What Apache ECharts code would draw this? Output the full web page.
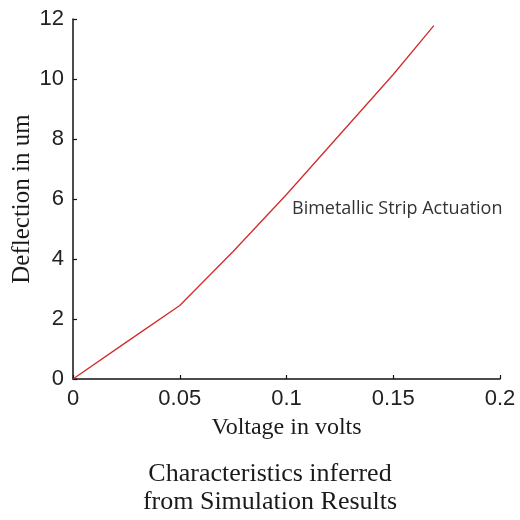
<!DOCTYPE html>
<html>
<head>
<meta charset="utf-8">
<script src="https://cdn.jsdelivr.net/npm/echarts@6/dist/echarts.min.js"></script>
<style>
  html, body { margin: 0; padding: 0; background: #fff; }
  #chart { width: 520px; height: 520px; }
</style>
</head>
<body>
<div id="chart"></div>
<script>
// values
const voltage = [0, 0.025, 0.05, 0.075, 0.1, 0.125, 0.15, 0.169]
const deflection = [0, 1.23, 2.45, 4.25, 6.15, 8.15, 10.15, 11.78]
const seriesName = 'Bimetallic Strip Actuation'
const captionLines = ['Characteristics inferred', 'from Simulation Results']

const serif = '"Liberation Serif", "DejaVu Serif", serif'
const sans = '"Liberation Sans", Arial, sans-serif'

const chart = echarts.init(document.getElementById('chart'))

chart.setOption({
  animation: false,
  backgroundColor: '#fff',
  grid: { left: 73, right: 20, top: 19, bottom: 141, outerBoundsMode: 'none' },
  xAxis: {
    type: 'value',
    min: 0,
    max: 0.2,
    interval: 0.05,
    name: 'Voltage in volts',
    nameLocation: 'middle',
    nameGap: 37,
    nameMoveOverlap: false,
    nameTextStyle: { fontFamily: serif, fontSize: 24, color: '#1a1a1a' },
    axisLine: { show: true, lineStyle: { color: '#111', width: 1.5 } },
    axisTick: { show: true, inside: true, length: 4, lineStyle: { color: '#111', width: 1.2 } },
    axisLabel: {
      fontFamily: sans,
      fontSize: 22,
      color: '#222',
      margin: 9,
      formatter: v => String(+v.toFixed(2)),
    },
    splitLine: { show: false },
  },
  yAxis: {
    type: 'value',
    min: 0,
    max: 12,
    interval: 2,
    name: 'Deflection in um',
    nameLocation: 'middle',
    nameGap: 38,
    nameMoveOverlap: false,
    nameTextStyle: { fontFamily: serif, fontSize: 25, color: '#1a1a1a' },
    axisLine: { show: true, lineStyle: { color: '#111', width: 1.5 } },
    axisTick: { show: true, inside: true, length: 4, lineStyle: { color: '#111', width: 1.2 } },
    axisLabel: { fontFamily: sans, fontSize: 22, color: '#222', margin: 9 },
    splitLine: { show: false },
  },
  series: [
    {
      name: seriesName,
      type: 'line',
      data: voltage.map((v, i) => [v, deflection[i]]),
      showSymbol: false,
      lineStyle: { color: '#d42a2a', width: 1.3 },
    },
  ],
  graphic: [
    {
      type: 'text',
      x: 292,
      y: 209,
      style: {
        text: seriesName,
        font: '18px "Open Sans", "Noto Sans", sans-serif',
        textVerticalAlign: 'middle',
        fill: '#333',
      },
    },
    {
      type: 'text',
      x: 270,
      y: 460,
      style: {
        text: captionLines.join('\n'),
        font: '26px ' + serif,
        lineHeight: 28,
        textAlign: 'center',
        fill: '#1a1a1a',
      },
    },
  ],
})
</script>
</body>
</html>
